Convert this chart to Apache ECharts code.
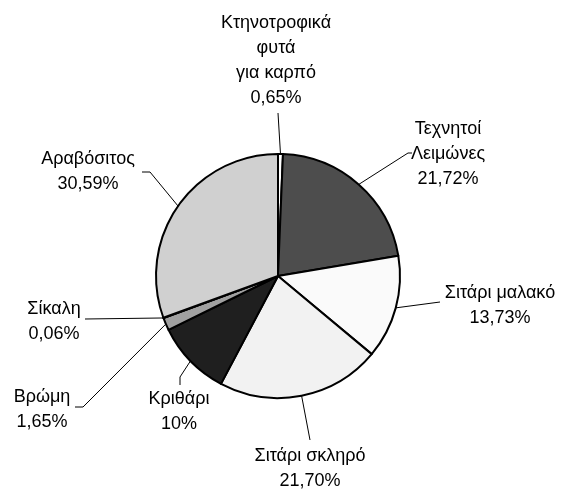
<!DOCTYPE html>
<html>
<head>
<meta charset="utf-8">
<script src="https://cdn.jsdelivr.net/npm/echarts@6/dist/echarts.min.js"></script>
<style>
html,body{margin:0;padding:0;background:#fff;}
#chart{width:562px;height:490px;}
</style>
</head>
<body>
<div id="chart"></div>
<script>
// Data
var categories = [
  "Κτηνοτροφικά\nφυτά\nγια καρπό",
  "Τεχνητοί\nΛειμώνες",
  "Σιτάρι μαλακό",
  "Σιτάρι σκληρό",
  "Κριθάρι",
  "Βρώμη",
  "Σίκαλη",
  "Αραβόσιτος"
];
var shares = [0.65, 21.72, 13.73, 21.70, 10, 1.65, 0.06, 30.59];

// Styles (kept apart from data)
var sliceColors = ["#ffffff", "#4d4d4d", "#fafafa", "#f2f2f2", "#1f1f1f", "#a0a0a0", "#808080", "#d0d0d0"];

// Label layout: text block centre and leader-line points near the text
var labelLayouts = [
  { x: 276, y: 61,    near: [[278, 113]] },
  { x: 448, y: 154,   near: [[408, 153], [412, 153]] },
  { x: 500, y: 305.5, near: [[440, 302]] },
  { x: 310, y: 468.5, near: [[310, 440]] },
  { x: 179, y: 411.5, near: [[180, 377], [180, 385]] },
  { x: 42,  y: 409.5, near: [[83, 407], [75, 407]] },
  { x: 54,  y: 321.5, near: [[85, 319]] },
  { x: 88,  y: 171.5, near: [[150, 172], [142, 172]] }
];

function fmtPct(v) {
  var s = Number.isInteger(v) ? String(v) : v.toFixed(2);
  return s.replace('.', ',') + '%';
}

var data = categories.map(function (c, i) {
  return { name: c, value: shares[i], itemStyle: { color: sliceColors[i] } };
});

var chart = echarts.init(document.getElementById('chart'), null, { renderer: 'canvas' });
chart.setOption({
  animation: false,
  backgroundColor: '#ffffff',
  series: [{
    type: 'pie',
    center: [278, 276],
    radius: 122,
    startAngle: 90,
    clockwise: true,
    avoidLabelOverlap: false,
    minAngle: 0,
    data: data,
    itemStyle: { borderColor: '#000000', borderWidth: 2 },
    emphasis: { disabled: true },
    label: {
      show: true,
      position: 'outside',
      color: '#000000',
      fontFamily: 'Liberation Sans, Arial, sans-serif',
      fontSize: 18,
      lineHeight: 25,
      align: 'center',
      formatter: function (p) { return p.name + '\n' + fmtPct(p.value); }
    },
    labelLine: {
      show: true,
      length: 10,
      length2: 10,
      lineStyle: { color: '#000000', width: 1 }
    },
    labelLayout: function (params) {
      var L = labelLayouts[params.dataIndex];
      var pts = params.labelLinePoints;
      var edge = pts ? pts[0] : null;
      var res = { x: L.x, y: L.y, align: 'center', verticalAlign: 'middle' };
      if (edge) {
        var line = [edge.slice ? edge.slice() : [edge[0], edge[1]]];
        L.near.forEach(function (p) { line.push(p); });
        if (line.length < 3) line.push(L.near[L.near.length - 1]);
        res.labelLinePoints = line;
      }
      return res;
    }
  }]
});
</script>
</body>
</html>
